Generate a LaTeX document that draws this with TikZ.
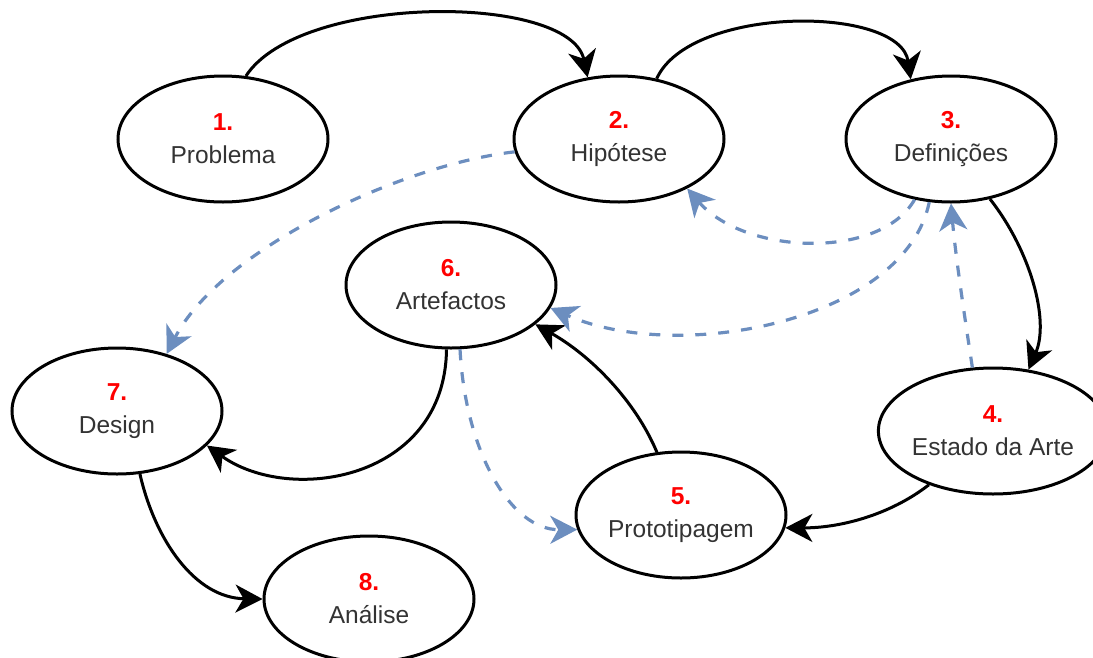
\documentclass[tikz,border=0pt]{standalone}
\usepackage{fontspec}
\setmainfont{Liberation Sans}
\usetikzlibrary{shapes.geometric,arrows.meta}
\definecolor{numred}{HTML}{FF0000}
\definecolor{labelgray}{HTML}{333333}
\definecolor{linkblue}{HTML}{6C8EBF}
\tikzset{
  stage/.style={ellipse, draw=black, line width=3pt, fill=white,
    minimum width=210pt, minimum height=126pt, inner sep=0pt,
    align=center, text=labelgray, font=\fontsize{24.5}{33}\selectfont},
  flow/.style={draw=black, line width=3pt,
    -{Stealth[length=27pt,width=28pt,inset=8pt]}},
  feedback/.style={draw=linkblue, line width=3.2pt, dash pattern=on 11pt off 12pt,
    -{Stealth[length=27pt,width=28pt,inset=8pt,fill=linkblue]}},
}
\newcommand{\stepnum}[1]{{\color{numred}\bfseries #1}}
\begin{document}
\begin{tikzpicture}[x=1pt,y=-1pt]
\useasboundingbox (0,0) rectangle (1093,657);

% stages of the method
\node[stage] (s1) at (223,139) {\stepnum{1.}\\Problema};
\node[stage] (s2) at (619,139) {\stepnum{2.}\\Hipótese};
\node[stage] (s3) at (951,139) {\stepnum{3.}\\Definições};
\node[stage] (s6) at (451,285) {\stepnum{6.}\\Artefactos};
\node[stage] (s7) at (117,411) {\stepnum{7.}\\Design};
\node[stage] (s4) at (993,431) {\stepnum{4.}\\Estado da Arte};
\node[stage] (s5) at (681,515) {\stepnum{5.}\\Prototipagem};
\node[stage] (s8) at (369,599) {\stepnum{8.}\\Análise};

% main sequence
\draw[flow] (s1.70) .. controls (300,-7) and (570,-7) .. (s2.117);
\draw[flow] (s2.58) .. controls (690,5) and (900,5) .. (s3.124);
\draw[flow] (s3.-57) .. controls (1030,250) and (1050,320) .. (s4.60);
\draw[flow] (s4.220) .. controls (890,515) and (840,528) .. (s5.-7);
\draw[flow] (s5.111) .. controls (635,400) and (590,355) .. (s6.-25);
\draw[flow] (s6.-94) .. controls (445,480) and (290,505) .. (s7.-21);
\draw[flow] (s7.-70) .. controls (155,540) and (195,598) .. (s8.180);

% feedback links
\draw[feedback] (s2.187) .. controls (400,165) and (220,250) .. (s7.49);
\draw[feedback] (s3.239) .. controls (880,260) and (745,255) .. (s2.-36);
\draw[feedback] (s3.-109) .. controls (905,320) and (680,365) .. (s6.-13);
\draw[feedback] (s4.108) .. controls (962,300) and (955,250) .. (s3.-90);
\draw[feedback] (s6.-82) .. controls (465,450) and (510,530) .. (s5.188);
\end{tikzpicture}
\end{document}
